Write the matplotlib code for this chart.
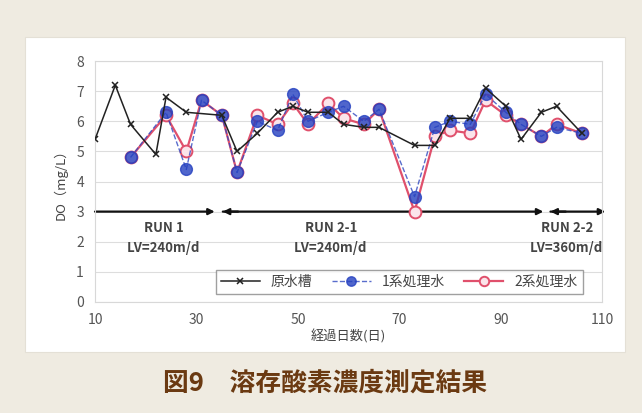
import matplotlib
matplotlib.use("Agg")
import matplotlib.pyplot as plt
from matplotlib.patches import Rectangle

plt.rcParams['font.family'] = ['Noto Sans CJK JP', 'DejaVu Sans']

# 原水槽
raw_days = [10, 14, 17, 22, 24, 28, 35, 38, 42, 46, 49, 52, 56, 59, 63, 66,
            73, 77, 80, 84, 87, 91, 94, 98, 101, 106]
raw_do = [5.4, 7.2, 5.9, 4.9, 6.8, 6.3, 6.2, 5.0, 5.6, 6.3, 6.5, 6.3, 6.3, 5.9,
          5.8, 5.8, 5.2, 5.2, 6.1, 6.1, 7.1, 6.5, 5.4, 6.3, 6.5, 5.6]

# 1系・2系処理水
days = [17, 24, 28, 31, 35, 38, 42, 46, 49, 52, 56, 59, 63, 66, 73, 77, 80,
        84, 87, 91, 94, 98, 101, 106]
do_1 = [4.8, 6.3, 4.4, 6.7, 6.2, 4.3, 6.0, 5.7, 6.9, 6.0, 6.3, 6.5, 6.0, 6.4,
        3.5, 5.8, 6.0, 5.9, 6.9, 6.3, 5.9, 5.5, 5.8, 5.6]
do_2 = [4.8, 6.2, 5.0, 6.7, 6.2, 4.3, 6.2, 5.9, 6.6, 5.9, 6.6, 6.1, 5.9, 6.4,
        3.0, 5.5, 5.7, 5.6, 6.7, 6.2, 5.9, 5.5, 5.9, 5.6]

# 運転条件の区間
runs = [("RUN 1", "LV=240m/d", 10, 33.6, 23.5),
        ("RUN 2-1", "LV=240m/d", 35.2, 98.4, 56.5),
        ("RUN 2-2", "LV=360m/d", 99.8, 110.6, 103.0)]

fig = plt.figure(figsize=(6.42, 4.13), dpi=100)
fig.patch.set_facecolor('#efebe1')
fig.patches.append(Rectangle((0.039, 0.148), 0.935, 0.762, transform=fig.transFigure,
                             facecolor='white', edgecolor='#e4e0d6', lw=0.8, zorder=-1))

ax = fig.add_axes([0.148, 0.269, 0.790, 0.583])
ax.set_facecolor('white')

ax.plot(days, do_2, '-', color='#e0506c', lw=1.6, marker='o', ms=8.5,
        mfc='#fbe4ea', mec='#e0506c', mew=1.4, label='2系処理水', zorder=3)
ax.plot(days, do_1, '--', color='#3048c0', lw=1.0, marker='o', ms=8.5,
        mfc='#2440c0', mec='#2440c0', alpha=0.8, label='1系処理水', zorder=4)
ax.plot(raw_days, raw_do, '-', color='#222222', lw=1.1, marker='x', ms=5,
        mew=1.1, label='原水槽', zorder=5)

for name, lv, x0, x1, xc in runs:
    ax.annotate('', xy=(x1, 3), xytext=(x0, 3),
                arrowprops=dict(arrowstyle='-|>', color='#111111', lw=1.6,
                                mutation_scale=9, shrinkA=0, shrinkB=0),
                annotation_clip=False, zorder=2)
    if x0 > 10:
        ax.annotate('', xy=(x0, 3), xytext=(x0 + 3, 3),
                    arrowprops=dict(arrowstyle='-|>', color='#111111', lw=1.6,
                                    mutation_scale=9, shrinkA=0, shrinkB=0),
                    annotation_clip=False, zorder=2)
    ax.text(xc, 2.45, name, ha='center', va='center', fontsize=9.5,
            color='#444444', fontweight='bold')
    ax.text(xc, 1.78, lv, ha='center', va='center', fontsize=9.5,
            color='#444444', fontweight='bold')

ax.set_xlim(10, 110)
ax.set_ylim(0, 8)
ax.set_xticks([10, 30, 50, 70, 90, 110])
ax.set_yticks(range(0, 9))
ax.yaxis.grid(True, color='#dddddd', lw=0.8)
ax.set_axisbelow(True)
ax.tick_params(length=0, labelsize=10, labelcolor='#555555', pad=8)
for side in ax.spines.values():
    side.set_color('#d8d8d8')
    side.set_linewidth(0.8)

ax.set_xlabel('経過日数(日)', fontsize=9.5, color='#444444', labelpad=2)
ax.set_ylabel('DO（mg/L）', fontsize=9.5, color='#444444', labelpad=6)

handles, labels = ax.get_legend_handles_labels()
order = [2, 1, 0]
leg = ax.legend([handles[i] for i in order], [labels[i] for i in order],
                ncol=3, loc='lower right', bbox_to_anchor=(0.975, 0.005),
                fontsize=10, frameon=True, fancybox=False, edgecolor='#888888',
                handlelength=2.8, columnspacing=1.4, borderpad=0.35,
                markerscale=0.8)
for t in leg.get_texts():
    t.set_color('#444444')

fig.text(0.506, 0.072, '図9　溶存酸素濃度測定結果', ha='center', va='center',
         fontsize=18.5, fontweight='bold', color='#6b3a12')

fig.savefig('out.png', dpi=100, facecolor=fig.get_facecolor())
